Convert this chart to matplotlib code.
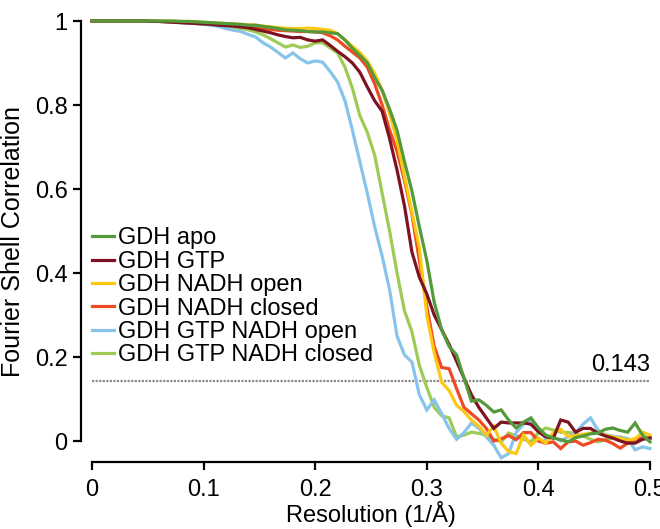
import numpy as np
import matplotlib
matplotlib.use("Agg")
import matplotlib.pyplot as plt

plt.rcParams['font.family'] = ['Liberation Sans', 'DejaVu Sans']

# spatial frequency grid (1/A), 76 shells from 0 to 0.5
freq = np.linspace(0, 0.5, 76)

gdh_apo = [1, 1, 1, 1, 1, 1, 1, 1, 1, 1, 1, 1, .999, .999, .998, .997,
           .996, .995, .994, .993, .992, .99, .99, .987, .985, .982, .979, .978, .977, .975,
           .974, .974, .972, .97, .955, .935, .918, .9, .865, .835, .79, .74, .665, .595, .51,
           .43, .33, .265, .225, .205, .15, .095, .098, .085, .069, .074, .05, .031, .045, .055,
           .031, .014, .007, .003, -.002, .008, .012, .017, .019, .028, .031, .025, .021, .043, .014,
           -.002]

gdh_gtp = [1, 1, 1, 1, 1, 1, 1, 1, .999, .999, .998, .997, .996, .995, .994, .993,
           .992, .99, .989, .988, .986, .984, .98, .976, .972, .967, .963, .96, .961, .955,
           .952, .955, .942, .928, .915, .9, .878, .843, .81, .785, .72, .645, .56, .45, .39,
           .35, .3, .265, .23, .19, .15, .11, .08, .055, .03, .045, .043, .043, .043, .04,
           .022, .01, .007, .05, .045, .021, .03, .03, .019, .012, .007, 0, -.005, -.005, .004,
           .007]

gdh_nadh_open = [1, 1, 1, 1, 1, 1, 1, 1, 1, 1, 1, .999, .999, .998, .998, .997,
                 .996, .995, .994, .993, .992, .991, .99, .988, .986, .984, .983, .982, .982, .983,
                 .982, .98, .978, .97, .955, .94, .925, .905, .875, .835, .78, .715, .63, .545, .46,
                 .3, .21, .14, .12, .085, .07, .05, .035, .014, .035, -.005, -.025, -.03, .014, -.01,
                 .007, -.005, .02, .028, .01, .013, .016, .019, .021, .014, .01, .006, .003, .005, .021,
                 .014]

gdh_nadh_closed = [1, 1, 1, 1, 1, 1, 1, 1, 1, .999, .999, .998, .998, .997, .996, .995,
                   .994, .993, .992, .99, .988, .986, .984, .982, .98, .978, .977, .976, .975, .975,
                   .974, .972, .965, .955, .94, .926, .912, .89, .85, .8, .74, .69, .62, .54, .43,
                   .32, .225, .175, .172, .125, .08, .065, .05, .03, 0, .005, .013, .003, .02, .02,
                   0, -.005, -.002, -.018, -.002, 0, -.01, -.004, .004, .002, -.006, -.017, -.005, .005, .007,
                   .007]

gdh_gtp_nadh_open = [1, 1, 1, 1, 1, 1, 1, 1, .999, .999, .998, .997, .996, .995, .994, .992,
                     .99, .987, .982, .978, .975, .968, .962, .948, .938, .925, .912, .924, .91, .9,
                     .905, .902, .88, .855, .81, .74, .665, .59, .51, .44, .36, .25, .205, .188, .11,
                     .074, .098, .065, .03, .004, .02, .043, .03, .01, -.01, -.04, -.03, .02, .04, .05,
                     .03, .004, .01, 0, .01, .02, .04, .055, .026, .015, .012, .008, .006, -.021, -.014,
                     -.018]

gdh_gtp_nadh_closed = [1, 1, 1, 1, 1, 1, 1, 1, .999, .999, .998, .997, .996, .995, .994, .993,
                       .991, .989, .987, .985, .982, .979, .974, .967, .958, .948, .938, .943, .937, .94,
                       .948, .948, .936, .924, .89, .84, .775, .735, .68, .59, .5, .4, .31, .26, .18,
                       .128, .08, .06, .055, .01, .014, .021, .018, .014, .004, -.002, .019, .012, .004, -.002,
                       .02, .031, .026, .021, .02, .019, .012, .004, -.002, .003, .007, .01, .004, 0, .006,
                       .01]

labels = ["GDH apo", "GDH GTP", "GDH NADH open", "GDH NADH closed",
          "GDH GTP NADH open", "GDH GTP NADH closed"]
colors = ["#549a3a", "#7c1222", "#fcc814", "#f04a24", "#87c4eb", "#9dcb55"]
series = [gdh_apo, gdh_gtp, gdh_nadh_open, gdh_nadh_closed,
          gdh_gtp_nadh_open, gdh_gtp_nadh_closed]
threshold = 0.143

fig = plt.figure(figsize=(6.6, 5.29), dpi=100)
ax = fig.add_axes([92 / 660, 67 / 529, 558 / 660, 441 / 529])

# draw in reverse so apo sits on top
handles = [None] * len(series)
for k in reversed(range(len(series))):
    (ln,) = ax.plot(freq, series[k], color=colors[k], lw=2.3, label=labels[k],
                    solid_joinstyle='miter', zorder=3 + (len(series) - k) * 0.1,
                    clip_on=False)
    handles[k] = ln

ax.axhline(threshold, color="#8c8c8c", lw=1.6, ls=(0, (1, 0.6)), zorder=2)
ax.text(0.5, threshold + 0.012, "0.143", ha="right", va="bottom", fontsize=17)

ax.set_xlim(0, 0.5)
ax.set_ylim(-0.05, 1.0)
ax.set_xticks([0, 0.1, 0.2, 0.3, 0.4, 0.5])
ax.set_xticklabels(["0", "0.1", "0.2", "0.3", "0.4", "0.5"])
ax.set_yticks([0, 0.2, 0.4, 0.6, 0.8, 1.0])
ax.set_yticklabels(["0", "0.2", "0.4", "0.6", "0.8", "1"])
ax.tick_params(labelsize=17, width=1.6, length=6, direction="out")
ax.tick_params(axis="x", pad=6)
ax.set_xlabel("Resolution (1/Å)", fontsize=17, labelpad=0)
ax.set_ylabel("Fourier Shell Correlation", fontsize=18, labelpad=7)

for side in ["top", "right"]:
    ax.spines[side].set_visible(False)
ax.spines["left"].set_position(("outward", 8))
ax.spines["left"].set_bounds(0, 1)
ax.spines["left"].set_linewidth(1.6)
ax.spines["bottom"].set_linewidth(1.6)

ax.legend(handles=handles, loc="upper left", bbox_to_anchor=(0.0, 0.532),
          frameon=False, fontsize=17, handlelength=0.95, handletextpad=0.15,
          labelspacing=0.06, borderpad=0, borderaxespad=0)

fig.savefig("out.png", dpi=100)
